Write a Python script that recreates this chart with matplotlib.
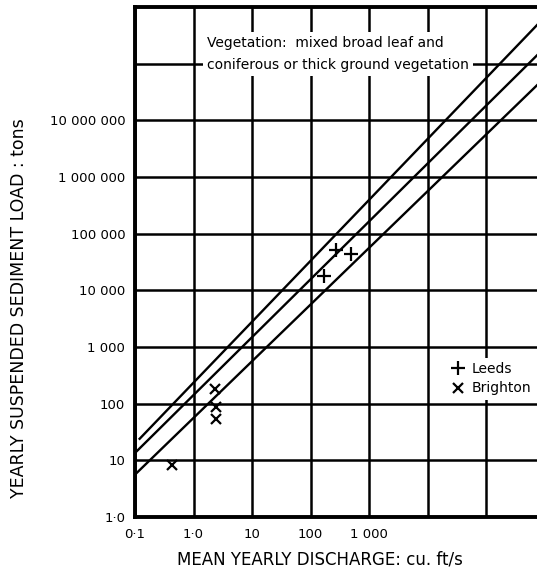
import numpy as np
import matplotlib
matplotlib.use('Agg')
import matplotlib.pyplot as plt

plt.rcParams['font.family'] = ['DejaVu Sans']

# envelope lines (discharge cu.ft/s -> sediment load tons)
upper_q = [0.12, 1e6]
upper_load = [24, 6.6e8]
middle_q = [0.1, 1e6]
middle_load = [13.5, 1.9e8]
lower_q = [0.1, 1e6]
lower_load = [5.6, 5.6e7]

# catchment measurements
leeds_q = [275, 500, 170]
leeds_load = [51000, 44000, 18000]
brighton_q = [2.3, 2.4, 2.4, 0.43]
brighton_load = [180, 86, 54, 8.3]

x_ticks = [0.1, 1, 10, 100, 1000, 1e4, 1e5]
x_labels = ['0·1', '1·0', '10', '100', '1 000', '', '']
y_ticks = [1, 10, 100, 1e3, 1e4, 1e5, 1e6, 1e7, 1e8]
y_labels = ['1·0', '10', '100', '1 000', '10 000', '100 000',
            '1 000 000', '10 000 000', '']

fig = plt.figure(figsize=(5.37, 5.71), dpi=100)
ax = fig.add_axes([0.2514, 0.0946, 0.7626, 0.8931])
ax.set_xscale('log')
ax.set_yscale('log')
ax.set_xlim(0.1, 1e6)
ax.set_ylim(1, 1e9)

ax.set_xticks(x_ticks)
ax.set_xticklabels(x_labels)
ax.set_yticks(y_ticks)
ax.set_yticklabels(y_labels)
ax.minorticks_off()
ax.tick_params(length=0, labelsize=9.5)
ax.tick_params(axis='x', pad=8)
ax.tick_params(axis='y', pad=7)
ax.grid(True, color='black', lw=1.8)
ax.set_axisbelow(True)
for s in ax.spines.values():
    s.set_linewidth(2.8)

for q, load in [(upper_q, upper_load), (middle_q, middle_load), (lower_q, lower_load)]:
    ax.plot(q, load, color='black', lw=1.7, zorder=3)

ax.plot(leeds_q, leeds_load, ls='none', marker='+', ms=10, mew=1.6,
        color='black', label='Leeds', zorder=4)
ax.plot(brighton_q, brighton_load, ls='none', marker='x', ms=7, mew=1.6,
        color='black', label='Brighton', zorder=4)

ax.text(0.176, 0.908, 'Vegetation:  mixed broad leaf and\nconiferous or thick ground vegetation',
        transform=ax.transAxes, fontsize=10, va='center', ha='left', linespacing=1.75,
        bbox=dict(facecolor='white', edgecolor='none', pad=3), zorder=5)

leg = ax.legend(loc='upper left', bbox_to_anchor=(0.745, 0.326), frameon=True,
                fontsize=10, handlelength=1.0, handletextpad=0.5,
                borderpad=0.3, labelspacing=0.4, fancybox=False)
leg.get_frame().set_edgecolor('none')
leg.get_frame().set_alpha(1)

ax.set_xlabel('MEAN YEARLY DISCHARGE: cu. ft/s', fontsize=12, labelpad=7)
ax.xaxis.set_label_coords(0.452, -0.065)
ax.set_ylabel('YEARLY SUSPENDED SEDIMENT LOAD : tons', fontsize=12.5)
ax.yaxis.set_label_coords(-0.262, 0.41)

fig.savefig('out.png', dpi=100)
